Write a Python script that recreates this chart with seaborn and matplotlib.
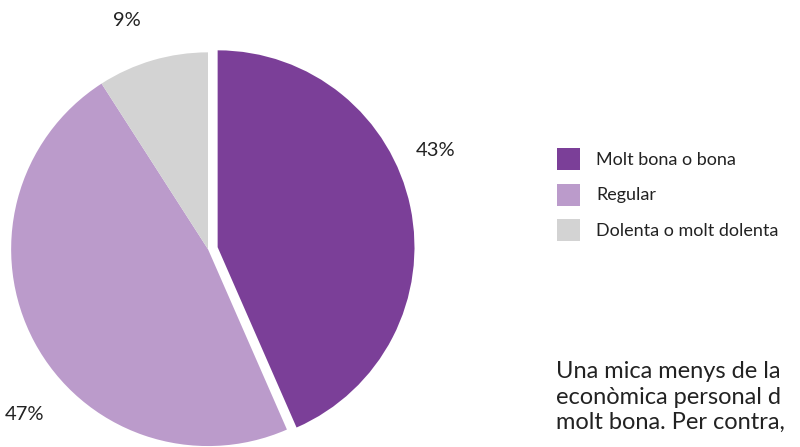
import matplotlib.pyplot as plt
import seaborn as sns

# Data
categories = ['Molt bona o bona', 'Regular', 'Dolenta o molt dolenta']
shares = [43, 47, 9]
colors = ['#7b3f98', '#bb9bcb', '#d3d3d3']
body_lines = ['Una mica menys de la', 'econòmica personal d', 'molt bona. Per contra,']

sns.set_theme(style='white')
plt.rcParams['font.family'] = ['Lato', 'DejaVu Sans']

fig = plt.figure(figsize=(8, 4.47), dpi=100)
fig.patch.set_facecolor('white')

# pie axes placed so the pie centre sits at ~(208, 249) px with radius ~197 px
ax = fig.add_axes([-0.06, -0.13, 0.64, 1.145])
wedges, _ = ax.pie(shares, colors=colors, startangle=90, counterclock=False,
                   explode=[0.05, 0, 0], wedgeprops=dict(linewidth=0))
ax.set_xlim(-1.3, 1.3)
ax.set_ylim(-1.3, 1.3)
ax.set_aspect('equal')
ax.axis('off')

# percentage labels
label_pos = [(1.155, 0.50), (-0.93, -0.84), (-0.41, 1.16)]
for (x, y), v in zip(label_pos, shares):
    ax.text(x, y, f'{v}%', ha='center', va='center', fontsize=14.5, color='#222222')

leg = fig.legend(wedges, categories, loc='upper left', bbox_to_anchor=(0.6875, 0.686),
                 frameon=False, fontsize=13, handlelength=1.25, handleheight=1.5,
                 labelspacing=0.77, handletextpad=0.9, borderaxespad=0)
for t in leg.get_texts():
    t.set_color('#222222')

for i, line in enumerate(body_lines):
    fig.text(0.695, 1 - (372 + 25 * i) / 447, line, ha='left', va='center',
             fontsize=17, color='#222222')

fig.savefig('out.png', dpi=100)
